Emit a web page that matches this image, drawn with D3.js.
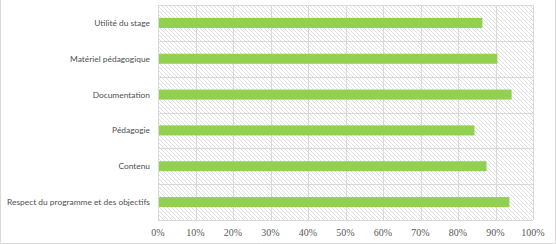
<!DOCTYPE html>
<html>
<head>
<meta charset="utf-8">
<script src="https://cdn.jsdelivr.net/npm/d3@7"></script>
<style>
  body { margin: 0; background: #fff; }
  svg { display: block; }
</style>
</head>
<body>
<svg id="chart" width="556" height="244"></svg>
<script>
'use strict'

// data, listed top first as in the picture
var categories = [
    "Utilité du stage",
    "Matériel pédagogique",
    "Documentation",
    "Pédagogie",
    "Contenu",
    "Respect du programme et des objectifs"
];
var values = [0.865, 0.905, 0.943, 0.844, 0.876, 0.937];
var tickValues = [0, 0.1, 0.2, 0.3, 0.4, 0.5, 0.6, 0.7, 0.8, 0.9, 1];

var width = 556, height = 244;
var margin = {top: 5, right: 23, bottom: 24, left: 158};

var svg = d3.select("#chart");

// hatch pattern for the plot background
var defs = svg.append("defs");
var pat = defs.append("pattern")
    .attr("id", "hatch")
    .attr("patternUnits", "userSpaceOnUse")
    .attr("width", 4).attr("height", 4);
pat.append("path")
    .attr("d", "M-1,-1 L5,5 M-1,3 L1,5 M3,-1 L5,1")
    .attr("stroke", "#d2d2d2")
    .attr("stroke-width", 0.7);

var x = d3.scaleLinear()
    .domain([0, 1])
    .range([margin.left, width - margin.right]);

var y = d3.scaleBand()
    .domain(categories)
    .range([margin.top, height - margin.bottom])
    .paddingInner(0.72)
    .paddingOuter(0.36);

var yBands = d3.scaleBand()
    .domain(categories)
    .range([margin.top, height - margin.bottom]);

// outer frame (left, right, bottom)
svg.append("path")
    .attr("d", "M0.5,0 V243.5 H555.5 V0")
    .attr("fill", "none")
    .attr("stroke", "#d9d9d9");

// plot background
svg.append("rect")
    .attr("x", x(0)).attr("y", margin.top)
    .attr("width", x(1) - x(0))
    .attr("height", height - margin.bottom - margin.top)
    .attr("fill", "url(#hatch)");

// vertical gridlines
svg.append("g")
    .selectAll("line")
    .data(tickValues)
    .enter().append("line")
    .attr("x1", function(d){ return Math.round(x(d)) + 0.5; })
    .attr("x2", function(d){ return Math.round(x(d)) + 0.5; })
    .attr("y1", margin.top)
    .attr("y2", height - margin.bottom)
    .attr("stroke", "#d9d9d9");

// horizontal band separators
var sepYs = categories.map(function(c){ return yBands(c); })
    .concat([height - margin.bottom]);
svg.append("g")
    .selectAll("line")
    .data(sepYs)
    .enter().append("line")
    .attr("x1", x(0))
    .attr("x2", x(1))
    .attr("y1", function(d){ return Math.round(d) + 0.5; })
    .attr("y2", function(d){ return Math.round(d) + 0.5; })
    .attr("stroke", "#d9d9d9");

// bars
svg.append("g")
    .selectAll("rect")
    .data(values)
    .enter().append("rect")
    .attr("x", x(0) + 1)
    .attr("y", function(d, i){ return y(categories[i]); })
    .attr("width", function(d){ return x(d) - x(0) - 1; })
    .attr("height", y.bandwidth())
    .attr("fill", "#92d050");

// category labels
svg.append("g")
    .selectAll("text")
    .data(categories)
    .enter().append("text")
    .attr("x", x(0) - 8)
    .attr("y", function(d){ return y(d) + y.bandwidth() / 2; })
    .attr("dy", "0.35em")
    .attr("text-anchor", "end")
    .attr("font-family", "Lato, 'Open Sans', sans-serif")
    .attr("font-size", 8.4)
    .attr("fill", "#505050")
    .text(function(d){ return d; });

// x axis labels
svg.append("g")
    .selectAll("text")
    .data(tickValues)
    .enter().append("text")
    .attr("x", function(d){ return x(d); })
    .attr("y", 236)
    .attr("text-anchor", "middle")
    .attr("font-family", "'Liberation Serif', serif")
    .attr("font-size", 10)
    .attr("fill", "#595959")
    .text(d3.format(".0%"));
</script>
</body>
</html>
